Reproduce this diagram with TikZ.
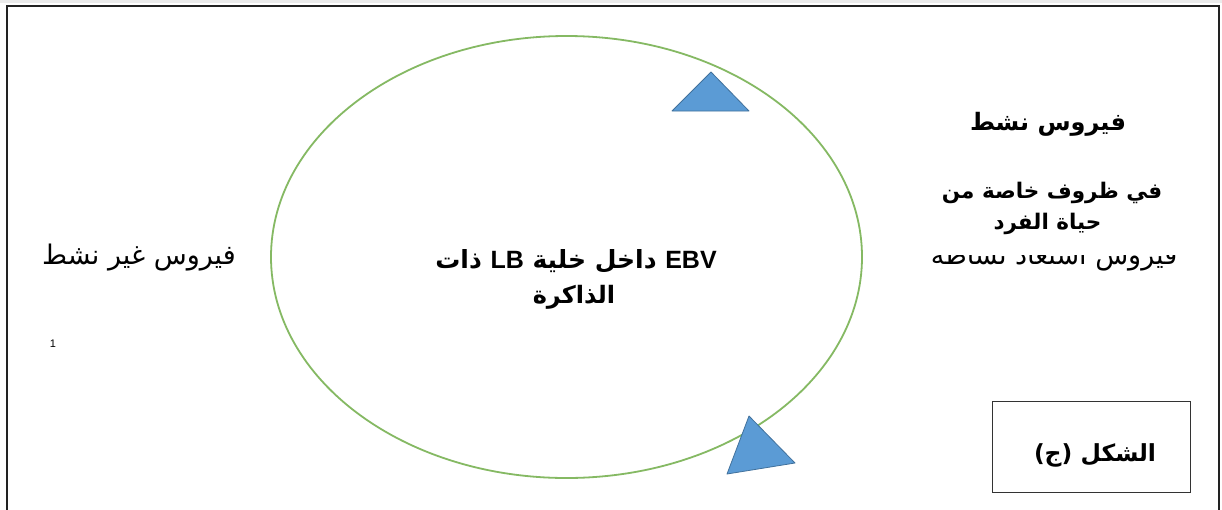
\documentclass[tikz,border=0pt]{standalone}
\usepackage{fontspec}
\usetikzlibrary{shapes.geometric}
\TeXXeTstate=1
\newfontfamily\arabicfont[Script=Arabic]{DejaVu Sans}
\newfontfamily\latinfont{Liberation Sans}
\definecolor{ringgreen}{HTML}{70AD47}
\definecolor{tipblue}{HTML}{5B9BD5}
\definecolor{tipedge}{HTML}{41719C}
\definecolor{framegray}{HTML}{222222}
\tikzset{
  artext/.style={anchor=base, inner sep=0pt, font=\arabicfont},
  tipshape/.style={fill=tipblue, draw=tipedge, line width=0.8pt, line join=round},
}
\begin{document}
\begin{tikzpicture}[x=1pt, y=-1pt]
\useasboundingbox (0,0) rectangle (1222,509);
\fill[white] (0,0) rectangle (1222,509);
% thin gray band along the top
\fill[black!8] (0,0) rectangle (1222,2.5);
% open frame: left, top and right sides
\draw[framegray, line width=2.5pt] (7,512) -- (7,6) -- (1219,6) -- (1219,512);

% the cycle
\node[ellipse, draw=ringgreen!85, line width=1.8pt, minimum width=591pt, minimum height=442pt, inner sep=0pt] (cyc) at (566.5,257) {};
\fill[tipshape] (711,72) -- (749,111) -- (672,111) -- cycle;
\fill[tipshape] (749,416) -- (795,463) -- (727,474) -- cycle;

% centre label
\node[artext, font=\arabicfont\bfseries\fontsize{25}{28}\selectfont] (core1) at (576,268)
  {\beginR{\latinfont\bfseries\beginL EBV\endL} داخل خلية {\latinfont\bfseries\beginL LB\endL} ذات\endR};
\node[artext, font=\arabicfont\bfseries\fontsize{24}{28}\selectfont] (core2) at (574,303)
  {\beginR الذاكرة\endR};

% left label
\node[artext, font=\arabicfont\fontsize{27}{30}\selectfont] (dormant) at (139,264)
  {\beginR فيروس غير نشط\endR};
\node[anchor=base, inner sep=0pt, font=\latinfont\fontsize{11}{12}\selectfont] (num) at (53,347) {1};

% right labels
\node[artext, font=\arabicfont\bfseries\fontsize{24}{27}\selectfont] (active) at (1048,130)
  {\beginR فيروس نشط\endR};
\node[artext, font=\arabicfont\bfseries\fontsize{21.5}{24}\selectfont] (cond1) at (1052,198)
  {\beginR في ظروف خاصة من\endR};
\node[artext, font=\arabicfont\bfseries\fontsize{21.5}{24}\selectfont] (cond2) at (1047.5,229)
  {\beginR حياة الفرد\endR};
% this line is partly hidden under the text block above it
\begin{scope}
  \clip (900,255) rectangle (1210,280);
  \node[artext, font=\arabicfont\fontsize{27}{30}\selectfont] (regain) at (1054,264)
    {\beginR فيروس استعاد نشاطه\endR};
\end{scope}

% figure caption box
\node[draw=black!80, line width=1pt, minimum width=198pt, minimum height=91pt, inner sep=0pt] (capbox) at (1091,446.5) {};
\node[artext, font=\arabicfont\bfseries\fontsize{23.5}{26}\selectfont] (caption) at (1095,461)
  {\beginR الشكل (ج)\endR};
\end{tikzpicture}
\end{document}
